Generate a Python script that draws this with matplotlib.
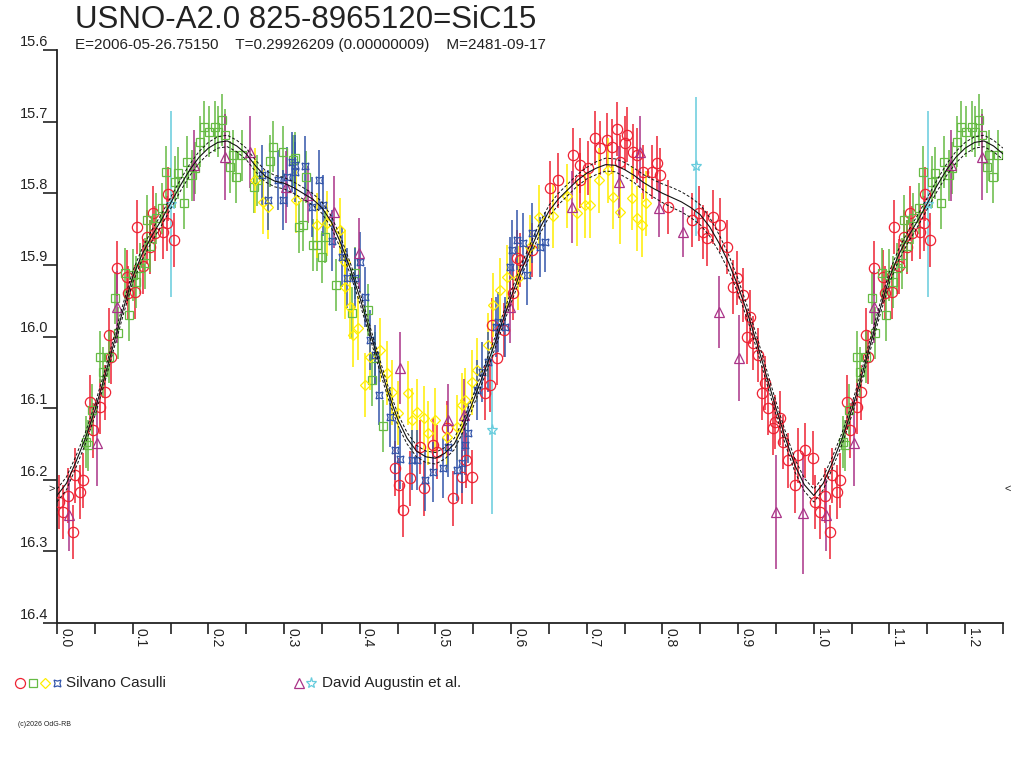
import matplotlib
matplotlib.use('Agg')
import matplotlib.pyplot as plt
import numpy as np

plt.rcParams['font.family'] = ['Liberation Sans', 'DejaVu Sans']

# ---- data (phase, magnitude) ----
title = 'USNO-A2.0 825-8965120=SiC15'
subtitle = 'E=2006-05-26.75150    T=0.29926209 (0.00000009)    M=2481-09-17'

red_phase = [.002, .008, .021, .015, .024, .030, .035, .048, .044, .057, .063, .072, .069, .079, .092, .103, .094, .106, .123, .127,
             .130, .140, .145, .154, .147, .113, .119,
             .447, .452, .466, .457, .480, .485, .497, .502, .515, .523, .535, .548, .540, .575, .581, .572, .566, .591, .603, .608,
             .612, .628, .651, .662, .682, .691, .702, .711, .718, .734, .740, .753, .751, .761, .766, .744, .774, .793, .797, .786,
             .807, .839, .848, .854, .867, .876, .885, .893, .691, .727,
             .859, .899, .907, .916, .912, .920, .926, .936, .931, .940, .949, .955, .946, .959, .966, .975, .979, .988, .999]
red_mag = [16.231, 16.245, 16.273, 16.222, 16.194, 16.217, 16.201, 16.131, 16.092, 16.098, 16.078, 16.029, 15.998, 15.905, 15.917,
           15.938, 15.939, 15.847, 15.875, 15.828, 15.856, 15.854, 15.842, 15.865, 15.801, 15.902, 15.861,
           16.184, 16.208, 16.198, 16.242, 16.154, 16.212, 16.152, 16.161, 16.128, 16.226, 16.196, 16.196, 16.173, 15.984, 16.030,
           16.068, 16.079, 15.991, 15.939, 15.890,
           15.893, 15.879, 15.793, 15.782, 15.747, 15.761, 15.765, 15.723, 15.737, 15.735, 15.710, 15.718, 15.730, 15.742, 15.747,
           15.756, 15.770, 15.758, 15.775, 15.770, 15.819, 15.837, 15.828, 15.854, 15.833, 15.844, 15.875, 15.931, 15.782, 15.726,
           15.863, 15.918, 15.942, 15.973, 16.000, 16.009, 16.026, 16.065, 16.079, 16.100, 16.119, 16.114, 16.128, 16.147, 16.173,
           16.208, 16.166, 16.159, 16.170]

green_phase = [.038, .041, .046, .057, .061, .069, .077, .081, .090, .095, .100, .104, .110, .116, .119, .123, .131, .139, .144, .156,
               .160, .168, .172, .178, .182, .189, .194, .201, .209, .213, .218, .222, .229, .232, .237, .244, .260, .264, .281, .285,
               .299, .314, .320, .312, .325, .329, .338, .344, .350, .354, .369, .390, .394, .411, .416, .420, .431]
green_mag = [16.147, 16.152, 16.103, 16.029, 16.050, 16.029, 15.946, 15.995, 15.912, 15.970, 15.914, 15.924, 15.905, 15.898, 15.838,
             15.874, 15.835, 15.821, 15.770, 15.784, 15.772, 15.814, 15.756, 15.775, 15.765, 15.728, 15.707, 15.714, 15.707, 15.714,
             15.698, 15.719, 15.763, 15.747, 15.777, 15.747, 15.791, 15.782, 15.755, 15.735, 15.742, 15.751, 15.847, 15.754, 15.845,
             15.777, 15.872, 15.872, 15.889, 15.861, 15.928, 15.967, 15.911, 15.963, 16.061, 16.030, 16.125]

yellow_phase = [.262, .272, .279, .316, .343, .357, .374, .381, .381, .387, .391, .398, .407, .414, .427, .436, .442, .451, .464, .469,
                .476, .485, .499, .490, .515, .529, .535, .539, .548, .555, .570, .576, .585, .594, .609, .625, .637, .655, .674, .687,
                .698, .704, .716, .728, .735, .744, .760, .766, .773, .778]
yellow_mag = [15.782, 15.812, 15.819, 15.810, 15.845, 15.842, 15.851, 15.896, 15.931, 15.959, 15.998, 15.988, 16.068, 16.029, 16.019,
              16.051, 16.078, 16.107, 16.079, 16.117, 16.105, 16.114, 16.117, 16.135, 16.140, 16.127, 16.096, 16.089, 16.064, 16.047,
              16.012, 15.956, 15.935, 15.917, 15.918, 15.875, 15.833, 15.832, 15.804, 15.828, 15.817, 15.817, 15.782, 15.768, 15.805,
              15.826, 15.807, 15.835, 15.844, 15.814]

blue_phase = [.271, .279, .292, .299, .310, .314, .304, .315, .328, .337, .346, .352, .363, .377, .383, .394, .400, .407, .414, .420,
              .425, .440, .447, .453, .469, .476, .486, .497, .510, .517, .529, .535, .539, .543, .555, .562, .570, .580, .583, .599,
              .601, .608, .616, .628, .638, .645, .621, .592]
blue_mag = [15.775, 15.810, 15.782, 15.810, 15.756, 15.770, 15.777, 15.760, 15.762, 15.819, 15.782, 15.817, 15.866, 15.889, 15.918,
            15.918, 15.896, 15.945, 16.005, 16.026, 16.082, 16.112, 16.159, 16.171, 16.173, 16.173, 16.201, 16.189, 16.184, 16.154,
            16.187, 16.177, 16.152, 16.135, 16.075, 16.050, 16.036, 15.987, 15.980, 15.903, 15.879, 15.865, 15.870, 15.856, 15.875,
            15.868, 15.914, 15.987]

magenta_phase = [.016, .053, .079, .181, .222, .255, .303, .332, .366, .399, .453, .517, .538, .599, .680, .743, .770, .795, .827,
                 .875, .901, .950, .986]
magenta_mag = [16.249, 16.149, 15.959, 15.761, 15.749, 15.742, 15.791, 15.802, 15.826, 15.884, 16.044, 16.117, 16.110, 15.959,
               15.819, 15.784, 15.742, 15.821, 15.854, 15.966, 16.030, 16.245, 16.247]
magenta_err = [0.05, 0.06, 0.05, 0.05, 0.06, 0.05, 0.05, 0.04, 0.05, 0.05, 0.05, 0.05, 0.05, 0.05, 0.05, 0.05, 0.05, 0.04, 0.035,
               0.05, 0.06, 0.08, 0.085]

cyan_phase = [.151, .575, .845]
cyan_mag = [15.815, 16.131, 15.762]
cyan_err = [0.13, 0.117, 0.097]

# fitted light curve, read every 0.0125 in phase
fit_phase = [0.0000, 0.0125, 0.0250, 0.0375, 0.0500, 0.0625, 0.0750, 0.0875, 0.1000, 0.1125,
             0.1250, 0.1375, 0.1500, 0.1625, 0.1750, 0.1875, 0.2000, 0.2125, 0.2250, 0.2375,
             0.2500, 0.2625, 0.2750, 0.2875, 0.3000, 0.3125, 0.3250, 0.3375, 0.3500, 0.3625,
             0.3750, 0.3875, 0.4000, 0.4125, 0.4250, 0.4375, 0.4500, 0.4625, 0.4750, 0.4875,
             0.5000, 0.5125, 0.5250, 0.5375, 0.5500, 0.5625, 0.5750, 0.5875, 0.6000, 0.6125,
             0.6250, 0.6375, 0.6500, 0.6625, 0.6750, 0.6875, 0.7000, 0.7125, 0.7250, 0.7375,
             0.7500, 0.7625, 0.7750, 0.7875, 0.8000, 0.8125, 0.8250, 0.8375, 0.8500, 0.8625,
             0.8750, 0.8875, 0.9000, 0.9125, 0.9250, 0.9375, 0.9500, 0.9625, 0.9750, 0.9875, 1.0000]
fit_mag = [16.222, 16.205, 16.175, 16.142, 16.103, 16.058, 16.010, 15.962, 15.917, 15.885,
           15.860, 15.838, 15.814, 15.790, 15.768, 15.750, 15.737, 15.729, 15.727, 15.734,
           15.745, 15.762, 15.776, 15.783, 15.786, 15.792, 15.800, 15.808, 15.820, 15.840,
           15.870, 15.905, 15.945, 15.990, 16.035, 16.078, 16.115, 16.142, 16.160, 16.168,
           16.170, 16.163, 16.150, 16.123, 16.090, 16.055, 16.020, 15.982, 15.945, 15.910,
           15.880, 15.850, 15.825, 15.808, 15.795, 15.782, 15.772, 15.765, 15.760, 15.761,
           15.767, 15.775, 15.785, 15.793, 15.800, 15.806, 15.812, 15.820, 15.830, 15.847,
           15.870, 15.897, 15.930, 15.968, 16.010, 16.055, 16.100, 16.142, 16.180, 16.207, 16.222]
fit_band = [0.009, 0.009, 0.008, 0.008, 0.008, 0.008, 0.008, 0.008, 0.008, 0.008,
            0.008, 0.008, 0.008, 0.008, 0.008, 0.008, 0.008, 0.008, 0.008, 0.008,
            0.008, 0.008, 0.008, 0.008, 0.008, 0.008, 0.008, 0.008, 0.008, 0.008,
            0.008, 0.008, 0.008, 0.008, 0.008, 0.008, 0.008, 0.008, 0.008, 0.008,
            0.008, 0.008, 0.008, 0.008, 0.008, 0.008, 0.008, 0.008, 0.008, 0.008,
            0.008, 0.008, 0.008, 0.008, 0.008, 0.008, 0.008, 0.009, 0.009, 0.009,
            0.010, 0.010, 0.011, 0.012, 0.013, 0.014, 0.014, 0.014, 0.014, 0.013,
            0.012, 0.011, 0.010, 0.009, 0.009, 0.009, 0.009, 0.009, 0.009, 0.009, 0.009]

min_level = 16.212


def fold(ph, mg, err=None):
    # repeat phases 0..0.25 after 1.0, like the original plot
    ph = np.asarray(ph); mg = np.asarray(mg)
    sel = ph <= 0.25
    p = np.concatenate([ph, ph[sel] + 1.0])
    m = np.concatenate([mg, mg[sel]])
    if err is None:
        return p, m
    e = np.asarray(err)
    return p, m, np.concatenate([e, e[sel]])


fig = plt.figure(figsize=(10.24, 7.68), dpi=100)
ax = fig.add_axes([57/1024, 1-623/768, 946/1024, 573/768])

series = [
    (red_phase, red_mag, None, 0.038, '#ee2233', 'o', 7.4),
    (green_phase, green_mag, None, 0.036, '#66bb44', 's', 6.4),
    (yellow_phase, yellow_mag, None, 0.045, '#ffee00', 'D', 5.6),
    (blue_phase, blue_mag, None, 0.042, '#3355aa', (4, 1, 45), 7.0),
    (magenta_phase, magenta_mag, magenta_err, None, '#aa3388', '^', 6.5),
    (cyan_phase, cyan_mag, cyan_err, None, '#66ccdd', '*', 8.0),
]
for ph, mg, err, e0, col, mk, ms in series:
    if err is None:
        err = [e0] * len(ph)
    p, m, e = fold(ph, mg, err)
    ax.errorbar(p, m, yerr=e, fmt='none', ecolor=col, elinewidth=1.1, capsize=0, zorder=2)
    ax.plot(p, m, linestyle='none', marker=mk, ms=ms, mfc='none', mec=col, mew=0.9, zorder=3)

fp, fm, fb = fold(fit_phase[1:], fit_mag[1:], fit_band[1:])
order = np.argsort(fp)
fp = np.concatenate([[0.0], fp[order]])
fm = np.concatenate([[fit_mag[0]], fm[order]])
fb = np.concatenate([[fit_band[0]], fb[order]])
ax.plot(fp, fm, color='#111111', lw=0.8, zorder=5)
ax.plot(fp, fm - fb, color='#111111', lw=0.7, ls=(0, (3, 2)), zorder=5)
ax.plot(fp, fm + fb, color='#111111', lw=0.7, ls=(0, (3, 2)), zorder=5)

ax.set_xlim(0, 1.25)
ax.set_ylim(16.4, 15.6)
for s in ['top', 'right']:
    ax.spines[s].set_visible(False)
for s in ['left', 'bottom']:
    ax.spines[s].set_linewidth(1.3)
    ax.spines[s].set_color('#222222')

xt = np.round(np.arange(0, 1.26, 0.1), 2)
ax.set_xticks(xt)
ax.set_xticks(np.round(np.arange(0.05, 1.26, 0.1), 2), minor=True)
ax.set_xticklabels([])
ax.tick_params(axis='x', which='both', direction='out', length=8, width=1.2, color='#222222')
yt = np.round(np.arange(15.6, 16.41, 0.1), 2)
ax.set_yticks(yt)
ax.set_yticklabels([])
ax.tick_params(axis='y', direction='out', length=10, width=1.2, color='#222222')

for v in xt:
    ax.annotate('%.1f' % v, xy=(v, 0), xycoords=ax.get_xaxis_transform(), xytext=(1, -5),
                textcoords='offset pixels', rotation=-90, ha='left', va='top', fontsize=10, color='#222222')
for v in yt:
    ax.annotate('%.1f' % v, xy=(0, v), xycoords=ax.get_yaxis_transform(), xytext=(-9, 1),
                textcoords='offset pixels', ha='right', va='bottom', fontsize=10.5, color='#222222')

ax.annotate('>', xy=(0, min_level), xycoords=ax.get_yaxis_transform(), xytext=(-5, 0),
            textcoords='offset pixels', ha='center', va='center', fontsize=8, color='#222222', annotation_clip=False)
ax.annotate('<', xy=(1, min_level), xycoords=ax.get_yaxis_transform(), xytext=(5, 0),
            textcoords='offset pixels', ha='center', va='center', fontsize=8, color='#222222', annotation_clip=False)

fig.text(75/1024, 1-5/768, title, fontsize=22.5, ha='left', va='top', color='#222222')
fig.text(75/1024, 1-38/768, subtitle, fontsize=11, ha='left', va='top', color='#222222')

# legend row
lg = fig.add_axes([0, 0, 1, 1])
lg.set_xlim(0, 1024)
lg.set_ylim(768, 0)
lg.axis('off')
lg.patch.set_alpha(0)
for x, col, mk, ms in [(20, '#ee2233', 'o', 7.2), (33, '#66bb44', 's', 6.4), (45, '#ffee00', 'D', 5.6),
                       (57, '#3355aa', (4, 1, 45), 7.0), (299, '#aa3388', '^', 6.5), (311, '#66ccdd', '*', 8.0)]:
    lg.plot([x], [683], marker=mk, ms=ms, mfc='none', mec=col, mew=0.9, linestyle='none')
lg.text(66, 683, 'Silvano Casulli', fontsize=11, ha='left', va='center', color='#222222')
lg.text(322, 683, 'David Augustin et al.', fontsize=11, ha='left', va='center', color='#222222')
lg.text(18, 725, '(c)2026 OdG-RB', fontsize=5, ha='left', va='center', color='#222222')

fig.savefig('out.png', dpi=100)
